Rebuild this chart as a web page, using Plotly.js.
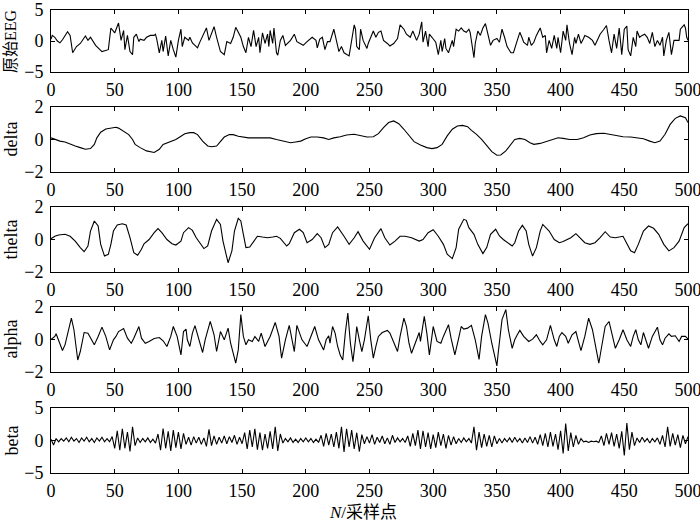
<!DOCTYPE html>
<html>
<head>
<meta charset="utf-8">
<script src="https://cdn.plot.ly/plotly-3.0.1.min.js"></script>
<style>html,body{margin:0;padding:0;background:#fff;}#chart{width:700px;height:524px;}</style>
</head>
<body>
<div id="chart"></div>
<script>
// ---- data (sample index N, amplitude) ----
const panelTitles = ["原始EEG", "delta", "thelta", "alpha", "beta"];
const xTicks = [0, 50, 100, 150, 200, 250, 300, 350, 400, 450, 500];
const yTicks5 = [-5, 0, 5];
const yTicks2 = [-2, 0, 2];

const rawN = [0,1,3,5,7,9,13,15,17,20,23,25,27,29,31,35,37,40,45,47,50,52,53,55,57,58,60,62,64,65,67,69,70,73,75,78,81,82,83,85,87,88,90,92,94,96,98,100,102,103,105,108,109,111,115,117,120,122,124,126,128,130,133,136,138,141,143,145,149,151,153,155,157,159,161,163,164,166,168,170,171,172,174,175,177,178,180,182,184,188,191,193,196,198,201,203,205,208,209,211,213,215,217,219,222,224,226,228,230,234,236,238,239,
240,242,243,245,248,249,252,253,255,257,259,261,264,266,269,272,274,277,279,282,284,287,289,291,292,294,296,297,299,302,304,306,307,309,310,312,315,316,318,320,322,324,326,328,329,332,333,335,337,339,341,343,345,347,350,352,354,356,358,361,363,366,368,370,371,374,375,377,379,381,384,386,388,389,391,393,395,397,398,400,402,404,405,407,409,411,412,414,416,418,419,422,425,427,429,431,434,436,438,440,442,444,446,448,450,452,453,455,457,459,460,462,464,466,468,470,472,474,476,478,480,481,483,485,487,489,491,493,494,497,498,499,500];
const rawV = [0.3,0.9,0.6,0.0,-0.3,0.2,1.5,0.9,-1.9,-0.9,-0.4,0.3,0.8,0.1,0.6,-0.7,-1.1,-1.7,-1.4,2.1,1.3,2.3,2.9,0.1,1.7,-1.4,0.9,-1.7,-2.2,0.6,1.1,-0.1,0.3,0.1,0.6,0.9,0.9,1.1,0.3,-1.9,0.1,-1.7,0.8,-2.4,0.1,-1.4,-2.6,0.1,1.9,-0.9,0.6,0.1,0.6,-0.3,-1.1,-0.1,1.3,2.1,0.1,1.1,2.3,0.6,-1.7,-2.2,-0.1,-0.4,0.6,2.2,0.6,-0.9,-1.9,0.6,-0.9,1.7,-0.9,0.6,-1.9,1.3,-0.4,1.1,-0.9,1.7,-0.4,2.1,-1.9,-2.3,0.1,0.9,-0.7,0.1,1.1,-0.1,-0.4,-0.7,-0.1,0.3,0.6,0.1,-1.1,0.3,0.6,-1.4,-0.1,-0.1,1.9,0.1,-1.7,-0.9,-1.9,-2.4,0.1,2.6,1.9,
-0.9,-1.4,1.9,0.1,-1.2,-0.4,1.1,1.6,0.6,1.4,1.6,0.1,-0.4,-0.8,-0.4,0.4,2.6,1.9,1.1,0.6,1.6,0.1,1.1,3.1,-0.2,1.6,-0.9,1.1,0.6,-0.2,-2.2,0.1,-1.7,0.4,-1.2,-1.9,0.1,-0.9,1.9,1.6,2.1,1.6,1.4,1.9,1.4,-2.7,-0.4,1.6,0.9,2.1,2.8,1.1,-0.7,0.1,0.4,-0.2,1.9,0.6,-0.9,-1.9,-1.9,0.1,1.4,0.4,-0.2,-0.7,0.6,-0.7,-0.2,0.9,2.1,0.6,0.9,-1.9,0.1,-1.2,0.9,-1.2,0.6,-1.9,1.6,0.1,2.6,-0.4,-2.2,0.6,-0.4,1.1,-0.4,0.4,0.9,0.6,0.1,-0.7,0.1,1.1,1.9,2.5,0.1,-1.9,1.1,-1.2,2.1,-2.2,1.9,2.4,-1.4,-2.4,0.6,-0.9,1.6,0.6,0.9,1.1,0.6,-0.4,1.4,-0.9,0.1,-0.7,0.6,-2.4,0.1,1.4,-2.2,0.1,0.1,0.1,1.9,2.6,2.1,0.6,0.1];

const deltaN = [0,3,7,11,15,19,23,27,31,34,36,39,43,47,51,53,57,61,64,66,70,75,81,85,88,94,98,102,105,109,112,115,119,123,126,130,133,136,140,143,147,151,155,159,167,172,177,183,188,192,196,200,204,209,214,218,222,227,232,238,243,248,253,257,261,265,269,273,277,281,285,290,295,299,303,307,311,315,319,323,327,330,334,338,342,346,350,353,357,361,364,368,372,376,379,384,389,395,398,402,407,413,418,423,428,434,439,444,449,455,460,465,470,474,478,482,486,490,494,498,500];
const deltaV = [0.1,0.0,-0.1,-0.15,-0.3,-0.4,-0.5,-0.6,-0.56,-0.3,0.1,0.45,0.65,0.72,0.75,0.7,0.5,0.3,0.0,-0.3,-0.5,-0.7,-0.8,-0.6,-0.3,-0.1,0.0,0.2,0.35,0.42,0.42,0.3,-0.1,-0.4,-0.45,-0.4,-0.1,0.15,0.3,0.3,0.2,0.15,0.1,0.1,0.1,0.1,0.0,-0.1,-0.2,-0.15,-0.1,0.05,0.15,0.15,0.1,0.0,0.1,0.17,0.28,0.32,0.24,0.15,0.17,0.36,0.73,1.04,1.14,0.97,0.63,0.22,-0.13,-0.34,-0.5,-0.56,-0.5,-0.3,0.22,0.63,0.83,0.87,0.79,0.56,0.32,0.01,-0.4,-0.75,-0.97,-0.95,-0.7,-0.3,0.0,0.07,0.0,-0.2,-0.3,-0.24,-0.1,0.05,0.11,0.07,0.0,0.0,0.11,0.28,0.36,0.38,0.32,0.24,0.17,0.15,0.11,0.05,-0.1,-0.2,-0.1,0.32,0.93,1.3,1.45,1.34,1.04];

const theltaN = [0,1,3,6,11,15,19,23,26,29,31,34,37,39,42,45,47,49,52,56,59,62,65,68,71,73,77,81,84,87,91,95,98,102,104,108,111,114,117,120,123,126,130,133,135,138,139,142,144,147,149,151,153,156,159,162,166,170,174,177,180,185,187,191,195,198,201,205,209,212,215,218,221,225,
230,234,238,241,245,250,254,259,262,266,270,274,278,283,289,292,296,300,304,308,311,315,318,320,324,326,328,332,335,339,342,345,349,352,355,359,362,364,367,370,373,375,378,381,384,386,391,395,399,402,408,412,415,419,423,427,431,435,439,443,449,452,455,458,461,465,469,473,477,481,485,489,493,497,500];
const theltaV = [0.05,0.1,0.2,0.28,0.32,0.2,-0.1,-0.5,-0.75,-0.4,0.52,1.14,0.83,-0.3,-1.02,-0.91,-0.3,0.52,0.89,0.97,0.89,0.11,-0.81,-0.97,-0.6,-0.26,0.0,0.42,0.67,0.42,0.0,-0.26,-0.34,-0.1,0.42,0.73,0.56,0.11,-0.26,-0.56,-0.4,0.52,1.24,0.93,-0.1,-1.12,-1.43,-0.7,0.52,1.3,1.14,0.32,-0.5,-0.46,-0.1,0.2,0.15,0.11,0.15,0.2,0.07,-0.4,-0.26,0.42,0.63,0.42,-0.2,0.0,0.36,0.11,-0.5,-0.3,0.42,0.77,
0.2,-0.3,0.11,0.48,-0.1,-0.6,0.11,0.67,0.11,-0.34,-0.1,0.2,0.2,0.11,-0.1,0.0,0.42,0.6,0.2,-0.3,-0.91,-1.18,-0.5,0.63,1.24,1.18,0.73,0.32,-0.3,-0.87,-0.5,0.32,0.63,0.22,0.0,-0.26,-0.4,-0.2,0.52,0.87,0.52,-0.3,-1.02,-0.5,0.52,0.93,0.52,0.0,-0.2,-0.13,0.11,0.36,0.11,-0.2,-0.3,-0.2,0.11,0.48,0.15,0.11,0.2,-0.3,-0.7,-0.81,-0.3,0.52,0.83,0.69,0.32,-0.3,-0.7,-0.5,-0.1,0.73,0.97];

const alphaN = [0,1,3,4,7,9,11,14,16,18,20,21,23,26,29,31,34,37,40,43,46,49,51,53,57,60,63,65,69,71,74,77,81,85,88,91,94,96,99,102,104,106,107,109,111,113,116,119,121,125,128,130,133,136,139,141,145,147,149,151,153,155,158,160,163,165,168,172,176,179,181,184,187,189,191,193,197,201,204,207,210,214,216,218,219,221,223,225,227,
229,231,233,235,237,239,240,242,244,246,249,251,253,255,257,260,264,266,269,272,274,277,279,281,283,285,289,290,293,295,297,299,300,303,306,308,312,314,317,320,322,324,327,330,333,336,338,341,343,346,350,351,354,357,359,362,364,366,368,371,375,378,381,384,386,389,392,395,397,399,401,404,406,409,412,414,416,419,422,425,428,430,432,435,438,440,443,446,449,452,455,457,459,461,463,465,467,469,472,476,478,480,482,485,487,490,493,495,498,500];
const alphaV = [0.0,0.08,0.19,0.35,-0.23,-0.68,-0.33,0.6,1.32,0.6,-0.64,-1.26,-0.74,0.43,0.39,0.08,-0.33,0.19,0.76,0.19,-0.64,-0.02,0.19,0.49,0.68,0.08,-0.23,0.08,0.8,0.08,-0.23,-0.12,0.06,0.12,-0.08,-0.43,0.19,0.8,0.19,-0.95,0.49,0.64,-0.02,-0.43,0.39,0.85,0.08,-0.8,-0.02,1.11,0.29,-0.74,0.49,-0.02,0.7,-0.23,-1.46,-0.64,1.53,0.19,-0.33,-0.02,-0.12,0.19,-0.12,0.39,-0.43,0.19,1.05,0.19,-1.15,-0.02,0.87,-0.02,-0.74,0.87,-0.02,-0.43,0.19,0.8,-0.02,-0.64,-0.02,0.23,-0.23,0.8,0.39,-0.43,-0.95,
-1.26,0.39,1.63,-0.23,-1.36,-0.02,0.8,-0.02,-0.74,-0.02,1.46,-0.02,-1.15,-0.43,0.19,0.43,0.56,0.39,-0.23,-0.74,0.19,1.32,0.8,-0.23,-0.85,-0.43,0.43,-0.12,1.42,0.39,-0.95,0.19,0.8,-0.12,-0.23,0.19,0.91,0.08,-0.95,0.08,0.8,0.64,0.7,0.87,-0.02,-1.22,0.19,1.53,1.01,-0.23,-1.63,-0.85,1.22,1.84,0.6,-0.54,-0.02,0.29,0.56,0.19,-0.12,0.02,0.29,-0.12,-0.33,-0.02,0.87,-0.02,-0.43,0.19,0.43,0.19,-0.23,0.29,0.49,-0.12,-0.68,0.19,1.32,0.6,-0.54,-1.46,-0.54,0.8,1.11,0.39,-0.54,-0.02,0.6,-0.02,-0.43,0.19,0.6,-0.02,-0.33,0.43,-0.02,-0.54,0.19,0.76,-0.02,-0.33,0.08,0.35,0.19,0.23,-0.12,0.19,0.19,0.02];

// beta: one reading every 2 samples (N = 0, 2, 4, ... 500)
const betaStep = 2;
const betaV = [0.2,-0.7,0.3,-0.2,0.3,-0.1,0.4,-0.2,0.5,-0.1,0.3,-0.3,0.4,-0.1,0.5,-0.2,0.3,-0.3,0.4,-0.1,0.5,-0.2,0.3,-0.2,
0.6,-1.2,1.5,-1.5,1.8,-1.2,1.3,-1.7,2.1,
-0.8,0.4,-0.3,0.3,-0.2,0.4,-0.3,0.2,-0.4,
1.0,-1.5,1.85,-1.2,1.4,-1.6,1.6,-1.1,1.3,-1.3,1.1,
-0.6,0.5,-0.7,0.6,-0.4,0.5,-0.6,0.4,
-0.9,1.7,-0.8,0.7,
-0.6,0.5,-0.4,0.7,-0.5,0.6,-0.3,0.8,-0.6,0.5,-0.5,
1.2,-1.3,1.6,-1.0,1.8,-1.4,1.2,-1.5,1.0,-1.2,1.4,-1.3,2.1,-1.6,1.0,
-0.4,0.3,-0.2,0.4,-0.3,0.2,-0.3,0.3,-0.2,0.4,-0.2,0.3,-0.3,0.2,-0.3,
0.8,-0.9,1.1,-0.7,1.0,-1.0,
1.3,-1.2,2.1,-1.75,1.8,-1.0,1.6,-1.3,1.2,-1.7,0.9,
-0.5,0.6,-0.4,0.9,-0.6,0.5,-0.3,0.7,-0.5,0.4,-0.6,0.8,-0.3,0.4,-0.2,0.3,-0.3,
0.7,-0.9,1.1,-0.8,1.6,-1.3,1.5,-1.0,1.2,-1.3,0.9,-1.1,1.3,-0.8,1.0,-1.2,0.8,-0.7,0.6,-0.5,
0.3,-0.3,0.4,-0.2,0.3,-0.4,
2.1,-1.5,1.3,-1.1,
1.0,-0.9,0.8,-1.0,0.7,-0.5,
0.3,-0.4,0.3,-0.2,0.4,-0.3,0.5,-0.2,0.3,-0.4,0.4,-0.3,0.6,-0.4,0.5,-0.6,
0.9,-0.8,1.1,-1.0,1.3,-0.9,1.0,-1.4,
1.5,-2.0,2.6,-1.6,1.2,
-1.0,0.8,-0.6,0.3,
-0.2,-0.1,-0.3,-0.1,-0.2,-0.1,-0.3,
0.7,-0.8,1.1,-0.6,1.2,-0.9,1.0,-1.2,
1.4,-2.3,2.7,-1.4,1.3,-0.8,
0.4,-0.3,0.5,-0.2,0.3,-0.4,0.3,-0.2,0.4,
-0.6,0.8,-1.0,2.1,-0.9,1.1,-0.7,0.9,-1.1,0.8,-0.5,0.6];
const betaN = betaV.map((_, i) => i * betaStep);

// ---- layout (pixel geometry of the 700x524 figure) ----
const W = 700, H = 524;
const plotLeft = 51, plotRight = 688;
const panelPx = [[10, 72], [107, 172], [207, 272], [307, 372], [408, 473]];
const series = [[rawN, rawV], [deltaN, deltaV], [theltaN, theltaV], [alphaN, alphaV], [betaN, betaV]];
const yRanges = [[-5, 5], [-2, 2], [-2, 2], [-2, 2], [-5, 5]];
const yTickSets = [yTicks5, yTicks2, yTicks2, yTicks2, yTicks5];

const serif = "'Liberation Serif', 'DejaVu Serif', serif";
const cjk = "'Liberation Serif', 'Noto Sans CJK SC', serif";

const data = [];
const layout = {
  width: W, height: H,
  margin: {l: 0, r: 0, t: 0, b: 0},
  paper_bgcolor: '#fff', plot_bgcolor: '#fff',
  showlegend: false,
  font: {family: serif, size: 18, color: '#000'},
  annotations: []
};

series.forEach((s, i) => {
  const k = i === 0 ? '' : String(i + 1);
  data.push({
    type: 'scatter', mode: 'lines',
    x: s[0], y: s[1],
    xaxis: 'x' + k, yaxis: 'y' + k,
    line: {color: '#000', width: 1.1},
    hoverinfo: 'skip'
  });
  const dom = [1 - panelPx[i][1] / H, 1 - panelPx[i][0] / H];
  const common = {
    showline: true, linecolor: '#000', linewidth: 1, mirror: 'ticks',
    ticks: 'inside', ticklen: 4, tickwidth: 1, tickcolor: '#000',
    showgrid: false, zeroline: false, fixedrange: true,
    ticklabeloverflow: 'allow',
    tickfont: {family: serif, size: 18, color: '#000'}
  };
  layout['xaxis' + k] = Object.assign({}, common, {
    domain: [plotLeft / W, plotRight / W],
    range: [0, 500], tickmode: 'array', tickvals: xTicks,
    anchor: 'y' + k, ticklabelstandoff: 1
  });
  layout['yaxis' + k] = Object.assign({}, common, {
    domain: dom, range: yRanges[i], tickmode: 'array', tickvals: yTickSets[i],
    anchor: 'x' + k, ticklabelstandoff: 3
  });
  layout.annotations.push({
    xref: 'paper', yref: 'paper', x: 11 / W, y: (dom[0] + dom[1]) / 2,
    text: panelTitles[i], textangle: -90, showarrow: false,
    xanchor: 'center', yanchor: 'middle',
    font: {family: cjk, size: i === 0 ? 16 : 18, color: '#000'}
  });
});

layout.annotations.push({
  xref: 'paper', yref: 'paper', x: 363 / W, y: 1 - 512 / H,
  text: '<i>N</i>/采样点', showarrow: false, xanchor: 'center', yanchor: 'middle',
  font: {family: cjk, size: 17, color: '#000'}
});

Plotly.newPlot('chart', data, layout, {staticPlot: true, displayModeBar: false});
</script>
</body>
</html>
